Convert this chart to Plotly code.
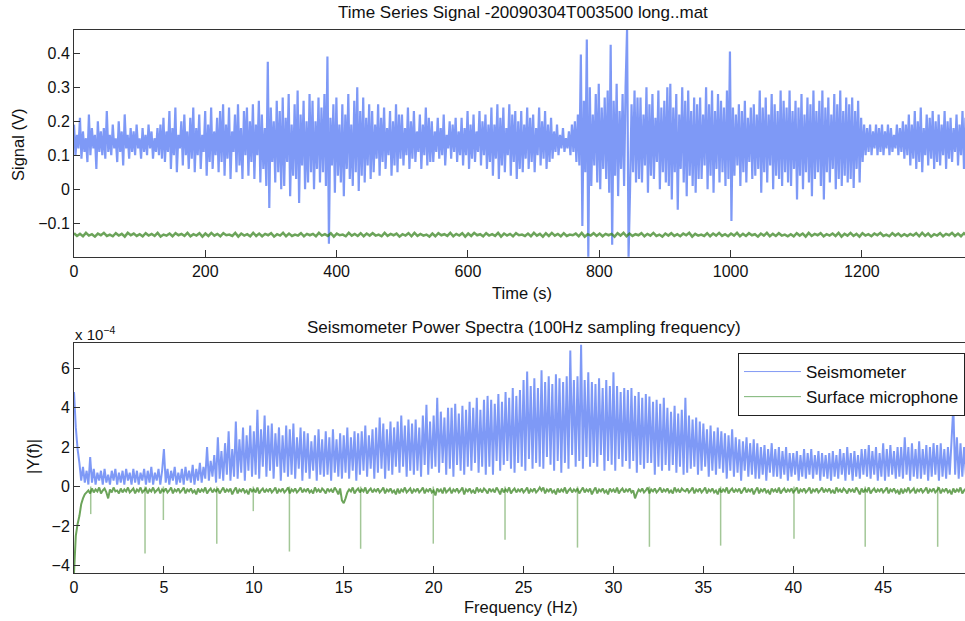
import numpy as np
import plotly.graph_objects as go

# ---------------- data: time series (top), volts ----------------
T_END = 1360.0  # seconds covered by the samples
seis_signal = [
    0.19,0.10,0.16,0.12,0.21,0.09,0.17,0.11,0.15,0.08,0.22,0.10,0.18,0.12,0.16,0.06,0.20,0.11,0.17,0.10,
    0.18,0.09,0.23,0.11,0.16,0.10,0.19,0.12,0.15,0.08,0.20,0.11,0.17,0.07,0.22,0.12,0.16,0.09,0.18,0.11,
    0.17,0.10,0.19,0.12,0.15,0.09,0.18,0.11,0.16,0.10,0.19,0.12,0.17,0.09,0.15,0.11,0.18,0.10,0.19,0.09,
    0.21,0.08,0.17,0.11,0.23,0.06,0.18,0.10,0.24,0.05,0.16,0.12,0.20,0.07,0.22,0.10,0.17,0.06,0.21,0.09,
    0.24,0.05,0.18,0.10,0.22,0.06,0.16,0.11,0.23,0.04,0.19,0.08,0.24,0.06,0.17,0.10,0.21,0.05,0.23,0.08,
    0.25,0.04,0.19,0.09,0.24,0.03,0.17,0.11,0.22,0.05,0.25,0.07,0.18,0.03,0.23,0.10,0.24,0.04,0.20,0.08,
    0.25,0.03,0.19,0.10,0.26,0.02,0.22,0.06,0.18,0.01,0.375,-0.055,0.24,0.08,0.20,0.02,0.26,0.05,0.23,0.00,
    0.27,0.01,0.21,0.08,0.28,-0.02,0.19,0.04,0.25,0.03,0.29,-0.04,0.22,0.07,0.26,0.00,0.20,0.02,0.28,0.05,
    0.26,0.00,0.20,0.06,0.27,0.02,0.24,0.05,0.28,0.01,0.39,-0.16,0.21,0.07,0.25,-0.01,0.27,0.04,0.19,0.02,
    0.25,-0.02,0.22,0.06,0.28,0.03,0.19,0.01,0.26,0.05,0.30,-0.005,0.23,0.04,0.27,0.02,0.21,0.07,0.25,0.03,
    0.23,0.05,0.19,0.09,0.25,0.04,0.21,0.08,0.24,0.06,0.18,0.10,0.23,0.04,0.20,0.07,0.25,0.05,0.22,0.09,
    0.22,0.07,0.18,0.10,0.24,0.06,0.20,0.09,0.23,0.08,0.17,0.11,0.22,0.06,0.19,0.10,0.24,0.07,0.21,0.08,
    0.20,0.08,0.17,0.11,0.21,0.09,0.18,0.10,0.22,0.07,0.16,0.12,0.20,0.09,0.19,0.11,0.21,0.08,0.17,0.10,
    0.21,0.07,0.18,0.10,0.23,0.06,0.19,0.09,0.22,0.08,0.17,0.11,0.23,0.07,0.20,0.10,0.22,0.06,0.19,0.08,
    0.24,0.04,0.19,0.09,0.25,0.03,0.21,0.07,0.24,0.05,0.18,0.10,0.25,0.04,0.22,0.08,0.23,0.03,0.20,0.06,
    0.23,0.05,0.19,0.09,0.24,0.06,0.21,0.08,0.22,0.05,0.18,0.10,0.24,0.07,0.20,0.09,0.23,0.06,0.19,0.08,
    0.21,0.09,0.17,0.11,0.19,0.10,0.16,0.12,0.18,0.11,0.15,0.12,0.17,0.10,0.19,0.11,0.20,0.08,0.22,0.07,
    0.396,-0.108,0.26,0.05,0.44,-0.20,0.30,0.01,0.22,0.07,0.28,0.02,0.31,0.00,0.24,0.06,0.27,0.03,0.29,-0.01,
    0.425,-0.163,0.26,0.04,0.31,-0.02,0.23,0.06,0.28,0.01,0.30,0.47,-0.20,0.00,0.25,0.05,0.29,0.02,0.27,0.03,
    0.27,0.02,0.22,0.07,0.30,-0.01,0.25,0.04,0.28,0.03,0.21,0.08,0.29,0.00,0.24,0.05,0.26,0.02,0.30,0.01,
    0.31,-0.03,0.24,0.05,0.28,-0.06,0.22,0.06,0.30,0.02,0.26,-0.02,0.29,0.04,0.23,0.01,0.27,-0.01,0.25,0.03,
    0.27,0.03,0.22,0.07,0.30,0.00,0.25,0.04,0.29,-0.01,0.23,0.06,0.28,0.02,0.26,0.05,0.24,0.01,0.29,0.03,
    0.405,-0.093,0.24,0.04,0.22,0.07,0.25,0.01,0.23,0.05,0.26,0.02,0.21,0.08,0.24,0.03,0.25,0.04,0.22,0.06,
    0.29,-0.01,0.24,0.05,0.27,0.02,0.22,0.07,0.28,0.00,0.25,0.04,0.23,0.03,0.29,0.01,0.26,0.05,0.24,0.02,
    0.29,0.01,0.23,0.06,0.26,-0.03,0.24,0.04,0.28,0.00,0.22,0.05,0.27,0.02,0.25,-0.02,0.29,0.03,0.23,0.05,
    0.26,0.01,0.29,-0.03,0.24,0.05,0.27,0.02,0.22,0.06,0.28,0.00,0.25,0.03,0.29,0.01,0.23,0.04,0.27,0.02,
    0.25,0.03,0.27,0.004,0.23,0.06,0.26,0.02,0.21,0.08,0.19,0.10,0.18,0.11,0.19,0.10,0.17,0.12,0.19,0.10,
    0.18,0.11,0.19,0.10,0.17,0.12,0.19,0.10,0.18,0.11,0.16,0.12,0.19,0.10,0.18,0.11,0.20,0.09,0.19,0.10,
    0.22,0.07,0.19,0.09,0.23,0.06,0.20,0.08,0.24,0.05,0.18,0.10,0.22,0.07,0.21,0.09,0.23,0.06,0.20,0.08,
    0.22,0.07,0.19,0.10,0.23,0.06,0.20,0.09,0.21,0.08,0.18,0.11,0.22,0.07,0.19,0.10,0.23,0.06,0.21,0.09,
]
mic_signal = [
    -0.129,-0.137,-0.131,-0.138,-0.128,-0.136,-0.132,-0.139,-0.130,-0.135,-0.128,-0.137,-0.133,-0.138,-0.129,-0.136,-0.131,-0.139,-0.128,-0.135,
    -0.130,-0.137,-0.132,-0.138,-0.129,-0.136,-0.131,-0.137,-0.128,-0.139,-0.133,-0.136,-0.130,-0.138,-0.129,-0.135,-0.131,-0.137,-0.128,-0.138,
    -0.132,-0.136,-0.129,-0.139,-0.130,-0.137,-0.128,-0.136,-0.131,-0.138,-0.129,-0.135,-0.133,-0.137,-0.128,-0.139,-0.130,-0.136,-0.132,-0.138,
    -0.128,-0.137,-0.130,-0.138,-0.131,-0.135,-0.129,-0.139,-0.132,-0.136,-0.128,-0.138,-0.130,-0.137,-0.133,-0.136,-0.129,-0.138,-0.131,-0.135,
    -0.131,-0.138,-0.128,-0.136,-0.132,-0.137,-0.129,-0.139,-0.130,-0.135,-0.133,-0.138,-0.128,-0.136,-0.131,-0.137,-0.129,-0.138,-0.130,-0.136,
    -0.129,-0.136,-0.133,-0.138,-0.128,-0.137,-0.131,-0.135,-0.130,-0.139,-0.132,-0.136,-0.129,-0.138,-0.128,-0.137,-0.131,-0.136,-0.133,-0.139,
    -0.130,-0.138,-0.129,-0.135,-0.132,-0.137,-0.128,-0.138,-0.131,-0.136,-0.129,-0.139,-0.130,-0.137,-0.128,-0.135,-0.132,-0.138,-0.129,-0.136,
    -0.132,-0.137,-0.128,-0.139,-0.130,-0.136,-0.131,-0.138,-0.129,-0.135,-0.133,-0.137,-0.130,-0.138,-0.128,-0.136,-0.131,-0.139,-0.129,-0.137,
    -0.128,-0.136,-0.131,-0.138,-0.129,-0.137,-0.133,-0.135,-0.130,-0.138,-0.128,-0.139,-0.132,-0.136,-0.129,-0.137,-0.130,-0.138,-0.131,-0.135,
    -0.131,-0.139,-0.129,-0.136,-0.128,-0.138,-0.130,-0.137,-0.132,-0.135,-0.129,-0.138,-0.131,-0.136,-0.128,-0.137,-0.133,-0.139,-0.130,-0.136,
    -0.129,-0.137,-0.132,-0.138,-0.130,-0.135,-0.128,-0.139,-0.131,-0.136,-0.133,-0.137,-0.129,-0.138,-0.130,-0.136,-0.128,-0.137,-0.132,-0.138,
    -0.130,-0.136,-0.128,-0.138,-0.131,-0.137,-0.129,-0.135,-0.132,-0.139,-0.130,-0.136,-0.128,-0.138,-0.131,-0.137,-0.129,-0.136,-0.133,-0.138,
    -0.132,-0.138,-0.129,-0.136,-0.130,-0.139,-0.128,-0.137,-0.131,-0.135,-0.129,-0.138,-0.132,-0.136,-0.130,-0.137,-0.128,-0.139,-0.131,-0.136,
    -0.128,-0.137,-0.131,-0.139,-0.129,-0.136,-0.132,-0.138,-0.130,-0.135,-0.128,-0.137,-0.133,-0.138,-0.129,-0.136,-0.130,-0.138,-0.132,-0.137,
    -0.131,-0.136,-0.129,-0.138,-0.128,-0.137,-0.130,-0.139,-0.132,-0.136,-0.129,-0.138,-0.131,-0.135,-0.128,-0.137,-0.130,-0.138,-0.129,-0.136,
]

# ---------------- data: spectra (bottom), |Y(f)| in units of 1e-4 ----------------
F_STEP = 0.1  # Hz between spectrum samples
seis_spec = [
    4.8,3.0,1.9,1.2,0.3,1.0,0.2,0.8,0.1,1.5,
    0.2,0.9,0.1,0.7,0.3,0.8,0.1,0.9,0.2,0.6,
    0.1,0.8,0.3,0.9,0.1,0.7,0.2,0.8,0.1,0.9,
    0.3,0.7,0.1,0.9,0.2,0.8,0.1,0.7,0.3,0.9,
    0.1,0.8,0.2,1.0,0.1,0.7,0.3,0.9,0.1,0.8,
    1.9,0.2,0.9,0.1,0.8,0.3,1.0,0.1,0.7,0.2,
    0.9,0.1,1.0,0.3,0.8,0.2,1.1,0.1,0.9,0.3,
    1.2,0.2,1.0,0.4,2.0,0.3,1.3,0.5,1.6,0.2,
    2.5,0.4,1.8,0.3,2.2,0.6,2.8,0.3,1.9,0.5,
    3.3,0.4,2.4,0.7,3.0,0.3,2.6,0.8,3.1,0.5,
    2.8,0.6,3.9,0.4,2.9,1.0,3.6,0.5,3.1,0.8,
    3.2,0.4,2.7,1.0,3.0,0.3,2.6,0.7,3.1,0.5,
    2.9,0.6,3.2,0.4,2.5,0.9,3.0,0.3,2.8,0.7,
    2.7,0.4,2.3,0.8,2.6,0.3,2.9,0.6,2.4,0.5,
    2.8,0.6,2.5,0.3,2.9,0.7,2.4,0.5,2.7,0.4,
    2.6,0.7,3.0,0.4,2.5,0.8,2.8,0.3,2.7,0.6,
    2.8,0.8,3.1,0.5,2.6,0.9,2.9,0.4,3.0,0.7,
    3.5,0.9,3.2,0.4,2.9,0.8,3.3,0.6,3.0,1.0,
    3.3,0.7,3.6,1.0,3.1,0.5,3.4,0.8,3.2,0.6,
    3.4,0.8,3.0,0.5,3.6,1.1,4.15,0.6,3.3,0.9,
    3.6,1.0,4.5,0.7,3.8,1.2,3.5,0.6,4.0,0.9,
    4.0,0.5,4.2,1.1,3.7,0.8,4.1,0.6,3.9,1.0,
    4.3,0.8,4.0,1.2,4.5,0.7,3.9,1.0,4.4,0.6,
    4.6,1.0,4.4,0.6,4.2,1.3,4.7,0.8,4.3,1.1,
    4.8,1.3,4.5,0.9,5.0,0.7,4.6,1.2,4.9,1.0,
    5.4,0.8,5.84,1.4,5.1,0.9,5.5,1.2,5.0,1.0,
    5.9,0.9,5.3,1.5,5.6,1.1,5.2,0.8,5.7,1.3,
    5.5,0.7,5.3,1.2,5.6,0.9,6.9,1.6,5.4,1.0,
    5.6,1.3,7.2,0.9,5.4,1.5,5.8,1.0,5.3,1.2,
    5.2,1.0,5.5,1.6,5.0,0.8,5.4,1.3,5.1,1.1,
    5.8,0.8,5.1,1.4,4.8,1.0,5.0,1.3,4.9,0.9,
    5.0,1.3,4.6,0.7,4.8,1.1,4.5,0.9,4.7,1.2,
    4.57,1.2,4.3,0.6,4.4,1.0,4.2,0.8,4.5,1.1,
    4.0,0.8,3.8,1.1,4.1,0.7,3.7,1.0,3.9,0.6,
    4.5,0.7,3.6,0.9,3.4,1.0,3.5,0.6,3.3,0.8,
    3.2,1.0,2.9,0.5,3.1,0.8,2.8,0.6,3.0,0.9,
    2.8,0.7,2.7,0.4,2.6,0.8,2.9,0.5,2.5,0.7,
    2.4,0.3,2.3,0.8,2.5,0.5,2.2,0.6,2.4,0.4,
    2.2,0.4,2.0,0.6,2.1,0.3,1.9,0.7,2.2,0.5,
    1.9,0.5,2.0,0.4,1.8,0.6,2.0,0.3,1.7,0.5,
    1.7,0.6,1.8,0.3,1.6,0.5,1.9,0.4,1.7,0.6,
    1.9,0.4,1.6,0.6,1.8,0.3,1.7,0.5,1.6,0.4,
    1.7,0.3,1.8,0.5,1.6,0.4,1.9,0.6,1.7,0.3,
    2.0,0.6,1.7,0.3,1.8,0.5,1.6,0.4,1.9,0.6,
    1.9,0.5,2.1,0.4,1.8,0.6,2.0,0.3,1.7,0.5,
    2.2,0.3,1.9,0.5,2.1,0.6,1.8,0.4,2.0,0.5,
    2.0,0.4,2.5,0.6,2.0,0.3,2.2,0.5,1.9,0.4,
    2.3,0.4,1.9,0.6,2.1,0.3,2.0,0.5,2.2,0.6,
    2.1,0.3,2.2,0.5,1.9,0.4,2.0,0.6,2.3,4.06,
    0.6,2.5,0.4,2.2,0.5,2.0,0.6,2.3,0.4,2.1,
    0.5,
]
mic_spec = [
    -4.4,-2.5,-1.9,-1.5,-0.9,-0.6,-0.4,-0.3,-0.2,-0.35,
    -0.1,-0.3,-0.15,-0.25,-0.05,-0.35,-0.2,-0.1,-0.3,-0.6,
    -0.15,-0.3,-0.05,-0.25,-0.2,-0.35,-0.1,-0.3,-0.15,-0.25,
    -0.05,-0.3,-0.2,-0.1,-0.35,-0.15,-0.25,-0.05,-0.3,-0.2,
    -0.1,-0.35,-0.15,-0.25,-0.05,-0.3,-0.2,-0.1,-0.35,-0.15,
    -0.25,-0.1,-0.3,-0.2,-0.05,-0.35,-0.15,-0.25,-0.1,-0.3,
    -0.2,-0.05,-0.35,-0.15,-0.25,-0.1,-0.3,-0.2,-0.4,-0.1,
    -0.3,-0.15,-0.25,-0.05,-0.35,-0.2,-0.1,-0.3,-0.15,-0.25,
    -0.1,-0.35,-0.2,-0.05,-0.3,-0.15,-0.25,-0.1,-0.4,-0.2,
    -0.05,-0.35,-0.15,-0.25,-0.1,-0.3,-0.2,-0.4,-0.1,-0.25,
    -0.15,-0.3,-0.05,-0.35,-0.2,-0.1,-0.3,-0.15,-0.25,-0.1,
    -0.3,-0.2,-0.05,-0.35,-0.15,-0.25,-0.1,-0.3,-0.2,-0.05,
    -0.35,-0.15,-0.25,-0.1,-0.3,-0.2,-0.05,-0.3,-0.15,-0.25,
    -0.1,-0.3,-0.2,-0.35,-0.05,-0.25,-0.15,-0.3,-0.1,-0.2,
    -0.35,-0.1,-0.25,-0.15,-0.3,-0.05,-0.2,-0.4,-0.1,-0.7,
    -0.85,-0.6,-0.3,-0.15,-0.25,-0.05,-0.35,-0.2,-0.1,-0.3,
    -0.15,-0.25,-0.05,-0.35,-0.2,-0.1,-0.3,-0.15,-0.25,-0.1,
    -0.3,-0.2,-0.05,-0.35,-0.15,-0.25,-0.1,-0.3,-0.2,-0.4,
    -0.1,-0.35,-0.15,-0.25,-0.05,-0.3,-0.2,-0.1,-0.35,-0.15,
    -0.25,-0.1,-0.3,-0.2,-0.05,-0.35,-0.15,-0.25,-0.1,-0.3,
    -0.2,-0.45,-0.1,-0.25,-0.15,-0.35,-0.05,-0.3,-0.2,-0.1,
    -0.35,-0.15,-0.25,-0.1,-0.3,-0.2,-0.05,-0.4,-0.15,-0.25,
    -0.1,-0.3,-0.2,-0.35,-0.05,-0.25,-0.15,-0.3,-0.1,-0.2,
    -0.35,-0.1,-0.25,-0.15,-0.3,-0.05,-0.2,-0.4,-0.1,-0.3,
    -0.15,-0.25,-0.05,-0.35,-0.2,-0.1,-0.3,-0.15,-0.25,-0.1,
    -0.3,-0.2,-0.05,-0.35,-0.15,-0.25,-0.1,-0.3,-0.2,-0.05,
    -0.2,-0.05,-0.35,-0.15,-0.25,-0.1,-0.3,-0.2,-0.4,-0.1,
    -0.3,-0.15,-0.25,-0.05,-0.35,-0.2,-0.1,-0.3,-0.15,-0.25,
    -0.1,-0.35,-0.2,-0.05,-0.3,-0.15,-0.25,-0.1,-0.4,-0.2,
    -0.05,-0.35,-0.15,-0.25,-0.1,-0.3,-0.2,-0.4,-0.1,-0.25,
    -0.15,-0.3,-0.05,-0.35,-0.2,-0.1,-0.3,-0.15,-0.25,-0.1,
    -0.3,-0.2,-0.6,-0.35,-0.15,-0.25,-0.1,-0.3,-0.2,-0.05,
    -0.35,-0.15,-0.25,-0.1,-0.3,-0.2,-0.05,-0.3,-0.15,-0.25,
    -0.1,-0.3,-0.2,-0.35,-0.05,-0.25,-0.15,-0.3,-0.1,-0.2,
    -0.25,-0.1,-0.3,-0.2,-0.05,-0.35,-0.15,-0.25,-0.1,-0.3,
    -0.2,-0.05,-0.35,-0.15,-0.25,-0.1,-0.3,-0.2,-0.4,-0.1,
    -0.3,-0.15,-0.25,-0.05,-0.35,-0.2,-0.1,-0.3,-0.15,-0.25,
    -0.1,-0.35,-0.2,-0.05,-0.3,-0.15,-0.25,-0.1,-0.4,-0.2,
    -0.05,-0.35,-0.15,-0.25,-0.1,-0.3,-0.2,-0.4,-0.1,-0.25,
    -0.15,-0.3,-0.05,-0.35,-0.2,-0.1,-0.3,-0.15,-0.25,-0.1,
    -0.3,-0.2,-0.05,-0.35,-0.15,-0.25,-0.1,-0.3,-0.2,-0.05,
    -0.35,-0.15,-0.25,-0.1,-0.3,-0.2,-0.05,-0.3,-0.15,-0.25,
    -0.1,-0.3,-0.2,-0.35,-0.05,-0.25,-0.15,-0.3,-0.1,-0.2,
    -0.35,-0.1,-0.25,-0.15,-0.3,-0.05,-0.2,-0.4,-0.1,-0.3,
    -0.15,-0.25,-0.05,-0.35,-0.2,-0.1,-0.3,-0.15,-0.25,-0.1,
    -0.3,-0.2,-0.05,-0.35,-0.15,-0.25,-0.1,-0.3,-0.2,-0.4,
    -0.1,-0.35,-0.15,-0.25,-0.05,-0.3,-0.2,-0.1,-0.35,-0.15,
    -0.25,-0.1,-0.3,-0.2,-0.05,-0.35,-0.15,-0.25,-0.1,-0.3,
    -0.2,-0.05,-0.35,-0.15,-0.25,-0.1,-0.3,-0.2,-0.4,-0.1,
    -0.3,-0.15,-0.25,-0.05,-0.35,-0.2,-0.1,-0.3,-0.15,-0.25,
    -0.1,
]
mic_spike_freq = [0.93, 3.95, 4.97, 7.94, 9.97, 11.98, 15.94, 19.98,
                  23.97, 28.0, 32.0, 35.96, 40.04, 44.0, 48.03]
mic_spike_depth = [-1.4, -3.4, -1.7, -2.9, -1.25, -3.3, -3.16, -2.9,
                   -2.7, -3.1, -3.06, -3.0, -2.65, -3.06, -3.06]

legend_names = ["Seismometer", "Surface microphone"]

top_yticks = [-0.1, 0, 0.1, 0.2, 0.3, 0.4]
top_xticks = [0, 200, 400, 600, 800, 1000, 1200]
bot_yticks = [-4, -2, 0, 2, 4, 6]
bot_xticks = [0, 5, 10, 15, 20, 25, 30, 35, 40, 45]

# ---------------- figure ----------------
W, H = 965, 621
ML, MR, MT, MB = 74, 0, 30, 48
PW, PH = W - ML - MR, H - MT - MB

def px(x):
    return (x - ML) / PW

def py(y):
    return (H - MB - y) / PH

BLUE = "rgba(40,85,240,0.6)"
GREEN = "rgba(45,125,20,0.7)"
BLUE_LEG = "rgba(90,120,240,0.75)"
GREEN_LEG = "rgba(90,160,80,0.8)"
FONT = "Liberation Sans, Arial, Helvetica, sans-serif"

t = np.linspace(0, T_END, len(seis_signal))
t_mic = np.linspace(0, T_END, len(mic_signal))
f = np.arange(len(seis_spec)) * F_STEP
f_mic = np.arange(len(mic_spec)) * F_STEP

spike_x, spike_y = [], []
for fr, d in zip(mic_spike_freq, mic_spike_depth):
    spike_x += [fr, fr, None]
    spike_y += [0, d, None]

fig = go.Figure()
fig.add_trace(go.Scatter(x=t, y=seis_signal, mode="lines",
                         line=dict(color=BLUE, width=2.2, simplify=False),
                         xaxis="x", yaxis="y", showlegend=False, hoverinfo="skip"))
fig.add_trace(go.Scatter(x=t_mic, y=mic_signal, mode="lines",
                         line=dict(color=GREEN, width=2.5, simplify=False),
                         xaxis="x", yaxis="y", showlegend=False, hoverinfo="skip"))
fig.add_trace(go.Scatter(x=f, y=seis_spec, mode="lines",
                         line=dict(color=BLUE, width=2.0, simplify=False),
                         xaxis="x2", yaxis="y2", showlegend=False, legendgroup="seis"))
fig.add_trace(go.Scatter(x=f_mic, y=mic_spec, mode="lines",
                         line=dict(color=GREEN, width=2.0, simplify=False),
                         xaxis="x2", yaxis="y2", showlegend=False, legendgroup="mic"))
fig.add_trace(go.Scatter(x=spike_x, y=spike_y, mode="lines",
                         line=dict(color="rgba(50,130,25,0.45)", width=1.5),
                         xaxis="x2", yaxis="y2", showlegend=False, legendgroup="mic"))
# legend entries (thin lines as in the reference legend)
for name, col, grp in zip(legend_names, [BLUE_LEG, GREEN_LEG], ["seis", "mic"]):
    fig.add_trace(go.Scatter(x=[None], y=[None], mode="lines", name=name,
                             line=dict(color=col, width=1), legendgroup=grp,
                             xaxis="x2", yaxis="y2"))

axis_common = dict(showgrid=False, zeroline=False, showline=True, linecolor="#333",
                   linewidth=1, ticks="inside", tickcolor="#333",
                   tickfont=dict(family=FONT, size=16, color="#111"))

top_dom = [py(256.7), 1.0]
bot_dom = [0.0, py(343.3)]

fig.update_layout(
    width=W, height=H,
    margin=dict(l=ML, r=MR, t=MT, b=MB),
    paper_bgcolor="white", plot_bgcolor="white",
    xaxis=dict(**axis_common, domain=[0, 1], anchor="y", range=[0, 1357],
               tickvals=top_xticks, ticklen=7, mirror=True),
    yaxis=dict(**axis_common, domain=top_dom, anchor="x", range=[-0.198, 0.468],
               tickvals=top_yticks, ticklen=6),
    xaxis2=dict(**axis_common, domain=[0, 1], anchor="y2", range=[0, 49.55],
                tickvals=bot_xticks, ticklen=7, mirror=True),
    yaxis2=dict(**axis_common, domain=bot_dom, anchor="x2", range=[-4.39, 7.27],
                tickvals=bot_yticks, ticklen=6),
    legend=dict(x=px(738), y=py(353), xanchor="left", yanchor="top",
                bgcolor="white", bordercolor="#222", borderwidth=1,
                font=dict(family=FONT, size=17, color="#111"),
                tracegroupgap=0, itemwidth=57),
    showlegend=True,
)

ann = [
    dict(text="Time Series Signal -20090304T003500 long..mat", x=px(523), y=py(12), size=17),
    dict(text="Seismometer Power Spectra (100Hz sampling frequency)", x=px(524), y=py(328), size=17),
    dict(text="Time (s)", x=px(522), y=py(293), size=16.5),
    dict(text="Frequency (Hz)", x=px(521), y=py(607), size=16.5),
    dict(text="Signal (V)", x=px(18), y=py(145), size=16.5, angle=-90),
    dict(text="|Y(f)|", x=px(33), y=py(457), size=16.5, angle=-90),
]
for a in ann:
    fig.add_annotation(text=a["text"], x=a["x"], y=a["y"], xref="paper", yref="paper",
                       xanchor="center", yanchor="middle", showarrow=False,
                       textangle=a.get("angle", 0),
                       font=dict(family=FONT, size=a.get("size", 13), color="#111"))
fig.add_annotation(text="x 10<sup>−4</sup>", x=px(73), y=py(333), xref="paper", yref="paper",
                   xanchor="left", yanchor="middle", showarrow=False,
                   font=dict(family=FONT, size=15, color="#111"))

fig.write_html("out.html")
